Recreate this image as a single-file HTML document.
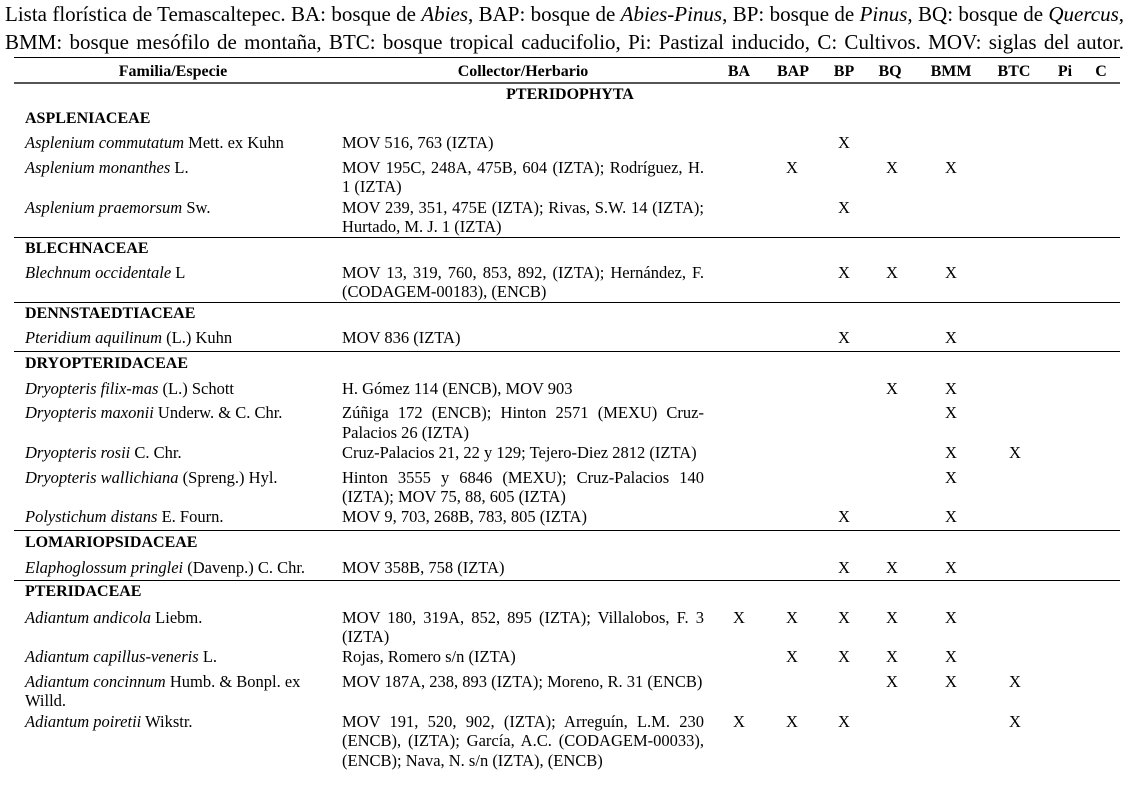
<!DOCTYPE html>
<html><head><meta charset="utf-8"><style>
body{margin:0;background:#fff;width:1139px;height:798px;position:relative;overflow:hidden;font-family:"Liberation Serif",serif;color:#000}
.t{position:absolute;left:5px;width:1119px;font-size:21px;line-height:24px;text-align:justify;text-align-last:justify;white-space:nowrap}
.r{position:absolute;font-size:16.5px;line-height:20px;white-space:nowrap}
.b{font-weight:bold;font-size:16px}
.h{position:absolute;font-size:16px;font-weight:bold;line-height:20px;transform:translateX(-50%);white-space:nowrap}
.x{position:absolute;font-size:16.5px;line-height:20px;transform:translateX(-50%)}
.c{position:absolute;left:342px;width:362px;font-size:16.5px;line-height:20px;text-align:justify;text-align-last:justify;white-space:nowrap}
.cl{text-align-last:left}
.ln{position:absolute;left:14px;width:1106px;height:1px;background:#000}
</style></head><body>
<div class="t" style="top:2px">Lista florística de Temascaltepec. BA: bosque de <i>Abies</i>, BAP: bosque de <i>Abies-Pinus</i>, BP: bosque de <i>Pinus</i>, BQ: bosque de <i>Quercus</i>,</div>
<div class="t" style="top:30px">BMM: bosque mesófilo de montaña, BTC: bosque tropical caducifolio, Pi: Pastizal inducido, C: Cultivos. MOV: siglas del autor.</div>
<div class="ln" style="top:57px"></div>
<div class="ln" style="top:82px;height:2px;background:#555"></div>
<div class="h" style="left:173px;top:62px">Familia/Especie</div>
<div class="h" style="left:523px;top:62px">Collector/Herbario</div>
<div class="h" style="left:739px;top:62px">BA</div>
<div class="h" style="left:793px;top:62px">BAP</div>
<div class="h" style="left:844px;top:62px">BP</div>
<div class="h" style="left:890px;top:62px">BQ</div>
<div class="h" style="left:951px;top:62px">BMM</div>
<div class="h" style="left:1014px;top:62px">BTC</div>
<div class="h" style="left:1065px;top:62px">Pi</div>
<div class="h" style="left:1101px;top:62px">C</div>
<div class="h" style="left:570px;top:85px">PTERIDOPHYTA</div>

<div class="r b" style="left:25px;top:109px">ASPLENIACEAE</div>
<div class="r" style="left:25px;top:133px"><i>Asplenium commutatum</i> Mett. ex Kuhn</div>
<div class="c cl" style="top:133px">MOV 516, 763 (IZTA)</div>
<div class="x" style="left:844px;top:133px">X</div>
<div class="r" style="left:25px;top:158px"><i>Asplenium monanthes</i> L.</div>
<div class="c" style="top:158px">MOV 195C, 248A, 475B, 604 (IZTA); Rodríguez, H.</div>
<div class="c cl" style="top:177px">1 (IZTA)</div>
<div class="x" style="left:792px;top:158px">X</div><div class="x" style="left:892px;top:158px">X</div><div class="x" style="left:951px;top:158px">X</div>
<div class="r" style="left:25px;top:198px"><i>Asplenium praemorsum</i> Sw.</div>
<div class="c" style="top:198px">MOV 239, 351, 475E (IZTA); Rivas, S.W. 14 (IZTA);</div>
<div class="c cl" style="top:217px">Hurtado, M. J. 1 (IZTA)</div>
<div class="x" style="left:844px;top:198px">X</div>
<div class="ln" style="top:237px"></div>

<div class="r b" style="left:25px;top:239px">BLECHNACEAE</div>
<div class="r" style="left:25px;top:263px"><i>Blechnum occidentale</i> L</div>
<div class="c" style="top:263px">MOV 13, 319, 760, 853, 892, (IZTA); Hernández, F.</div>
<div class="c cl" style="top:282px">(CODAGEM-00183), (ENCB)</div>
<div class="x" style="left:844px;top:263px">X</div><div class="x" style="left:892px;top:263px">X</div><div class="x" style="left:951px;top:263px">X</div>
<div class="ln" style="top:302px"></div>

<div class="r b" style="left:25px;top:304px">DENNSTAEDTIACEAE</div>
<div class="r" style="left:25px;top:328px"><i>Pteridium aquilinum</i> (L.) Kuhn</div>
<div class="c cl" style="top:328px">MOV 836 (IZTA)</div>
<div class="x" style="left:844px;top:328px">X</div><div class="x" style="left:951px;top:328px">X</div>
<div class="ln" style="top:351px"></div>

<div class="r b" style="left:25px;top:354px">DRYOPTERIDACEAE</div>
<div class="r" style="left:25px;top:379px"><i>Dryopteris filix-mas</i> (L.) Schott</div>
<div class="c cl" style="top:379px">H. Gómez 114 (ENCB), MOV 903</div>
<div class="x" style="left:892px;top:379px">X</div><div class="x" style="left:951px;top:379px">X</div>
<div class="r" style="left:25px;top:403px"><i>Dryopteris maxonii</i> Underw. &amp; C. Chr.</div>
<div class="c" style="top:403px">Zúñiga 172 (ENCB); Hinton 2571 (MEXU) Cruz-</div>
<div class="c cl" style="top:423px">Palacios 26 (IZTA)</div>
<div class="x" style="left:951px;top:403px">X</div>
<div class="r" style="left:25px;top:443px"><i>Dryopteris rosii</i> C. Chr.</div>
<div class="c cl" style="top:443px">Cruz-Palacios 21, 22 y 129; Tejero-Diez 2812 (IZTA)</div>
<div class="x" style="left:951px;top:443px">X</div><div class="x" style="left:1015px;top:443px">X</div>
<div class="r" style="left:25px;top:468px"><i>Dryopteris wallichiana</i> (Spreng.) Hyl.</div>
<div class="c" style="top:468px">Hinton 3555 y 6846 (MEXU); Cruz-Palacios 140</div>
<div class="c cl" style="top:487px">(IZTA); MOV 75, 88, 605 (IZTA)</div>
<div class="x" style="left:951px;top:468px">X</div>
<div class="r" style="left:25px;top:507px"><i>Polystichum distans</i> E. Fourn.</div>
<div class="c cl" style="top:507px">MOV 9, 703, 268B, 783, 805 (IZTA)</div>
<div class="x" style="left:844px;top:507px">X</div><div class="x" style="left:951px;top:507px">X</div>
<div class="ln" style="top:530px"></div>

<div class="r b" style="left:25px;top:533px">LOMARIOPSIDACEAE</div>
<div class="r" style="left:25px;top:558px"><i>Elaphoglossum pringlei</i> (Davenp.) C. Chr.</div>
<div class="c cl" style="top:558px">MOV 358B, 758 (IZTA)</div>
<div class="x" style="left:844px;top:558px">X</div><div class="x" style="left:892px;top:558px">X</div><div class="x" style="left:951px;top:558px">X</div>
<div class="ln" style="top:580px"></div>

<div class="r b" style="left:25px;top:582px">PTERIDACEAE</div>
<div class="r" style="left:25px;top:608px"><i>Adiantum andicola</i> Liebm.</div>
<div class="c" style="top:608px">MOV 180, 319A, 852, 895 (IZTA); Villalobos, F. 3</div>
<div class="c cl" style="top:627px">(IZTA)</div>
<div class="x" style="left:739px;top:608px">X</div><div class="x" style="left:792px;top:608px">X</div><div class="x" style="left:844px;top:608px">X</div><div class="x" style="left:892px;top:608px">X</div><div class="x" style="left:951px;top:608px">X</div>
<div class="r" style="left:25px;top:647px"><i>Adiantum capillus-veneris</i> L.</div>
<div class="c cl" style="top:647px">Rojas, Romero s/n (IZTA)</div>
<div class="x" style="left:792px;top:647px">X</div><div class="x" style="left:844px;top:647px">X</div><div class="x" style="left:892px;top:647px">X</div><div class="x" style="left:951px;top:647px">X</div>
<div class="r" style="left:25px;top:672px"><i>Adiantum concinnum</i> Humb. &amp; Bonpl. ex</div>
<div class="r" style="left:25px;top:691px">Willd.</div>
<div class="c cl" style="top:672px">MOV 187A, 238, 893 (IZTA); Moreno, R. 31 (ENCB)</div>
<div class="x" style="left:892px;top:672px">X</div><div class="x" style="left:951px;top:672px">X</div><div class="x" style="left:1015px;top:672px">X</div>
<div class="r" style="left:25px;top:712px"><i>Adiantum poiretii</i> Wikstr.</div>
<div class="c" style="top:712px">MOV 191, 520, 902, (IZTA); Arreguín, L.M. 230</div>
<div class="c" style="top:731px">(ENCB), (IZTA); García, A.C. (CODAGEM-00033),</div>
<div class="c cl" style="top:751px">(ENCB); Nava, N. s/n (IZTA), (ENCB)</div>
<div class="x" style="left:739px;top:712px">X</div><div class="x" style="left:792px;top:712px">X</div><div class="x" style="left:844px;top:712px">X</div><div class="x" style="left:1015px;top:712px">X</div>
</body></html>
